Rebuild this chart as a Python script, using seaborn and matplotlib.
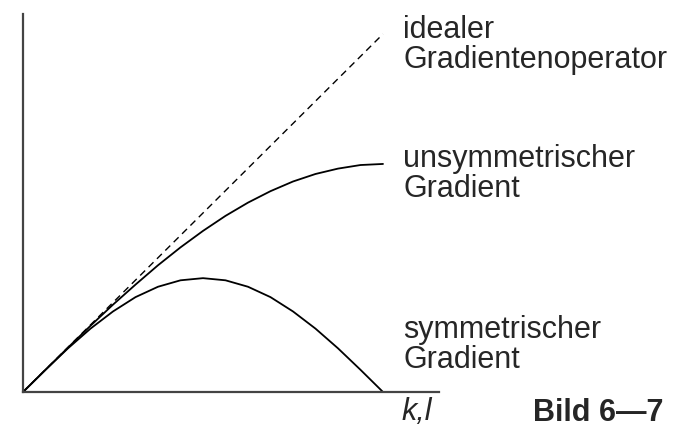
import matplotlib
matplotlib.use("Agg")
import matplotlib.pyplot as plt
import seaborn as sns
import pandas as pd

# Values (x normalised to 0..1, y in same units as ideal line)
k_ideal = [0.0, 1.0]
ideal = [0.0, 1.0]

k_curve = [0.0, 0.0625, 0.125, 0.1875, 0.25, 0.3125, 0.375, 0.4375, 0.5,
           0.5625, 0.625, 0.6875, 0.75, 0.8125, 0.875, 0.9375, 1.0]
unsym = [0.0, 0.062, 0.124, 0.185, 0.244, 0.300, 0.354, 0.404, 0.450,
         0.492, 0.529, 0.561, 0.588, 0.609, 0.624, 0.634, 0.637]
sym = [0.0, 0.062, 0.122, 0.177, 0.225, 0.265, 0.294, 0.312, 0.318,
       0.312, 0.294, 0.265, 0.225, 0.177, 0.122, 0.062, 0.0]

labels_ideal = ["idealer", "Gradientenoperator"]
labels_unsym = ["unsymmetrischer", "Gradient"]
labels_sym = ["symmetrischer", "Gradient"]
axis_label = "k,l"
fig_label = "Bild 6\u20147"

sns.set_style("white")
plt.rcParams["font.family"] = ["Liberation Sans", "DejaVu Sans"]

W, H = 697, 427
fig = plt.figure(figsize=(W / 100, H / 100), dpi=100)
x0, x1, ybot, ytop = 23, 439, 393, 15
ax = fig.add_axes([x0 / W, 1 - ybot / H, (x1 - x0) / W, (ybot - ytop) / H])

df_ideal = pd.DataFrame({"k": k_ideal, "v": ideal})
df_c = pd.DataFrame({"k": k_curve, "u": unsym, "s": sym})

sns.lineplot(data=df_ideal, x="k", y="v", ax=ax, color="black", lw=1.0,
             linestyle=(0, (5, 3.5)))
sns.lineplot(data=df_c, x="k", y="u", ax=ax, color="black", lw=1.3)
sns.lineplot(data=df_c, x="k", y="s", ax=ax, color="black", lw=1.3)

ax.set_xlim(0, (x1 - x0) / 360)
ax.set_ylim(0, (ybot - ytop) / 358)
ax.set_xticks([])
ax.set_yticks([])
ax.set_xlabel("")
ax.set_ylabel("")
for s in ["top", "right"]:
    ax.spines[s].set_visible(False)
for s in ["left", "bottom"]:
    ax.spines[s].set_color("#444444")
    ax.spines[s].set_linewidth(1.6)

fs = 22

def txt(x, y, s, **kw):
    fig.text(x / W, 1 - y / H, s, fontsize=fs, va="baseline", ha="left", **kw)

txt(403, 38, labels_ideal[0])
txt(403, 68, labels_ideal[1])
txt(403, 167, labels_unsym[0])
txt(403, 197, labels_unsym[1])
txt(403, 338, labels_sym[0])
txt(403, 368, labels_sym[1])
txt(401, 420, axis_label, style="italic")
txt(533, 421, fig_label, fontweight="bold")

fig.savefig("out.png", dpi=100)
